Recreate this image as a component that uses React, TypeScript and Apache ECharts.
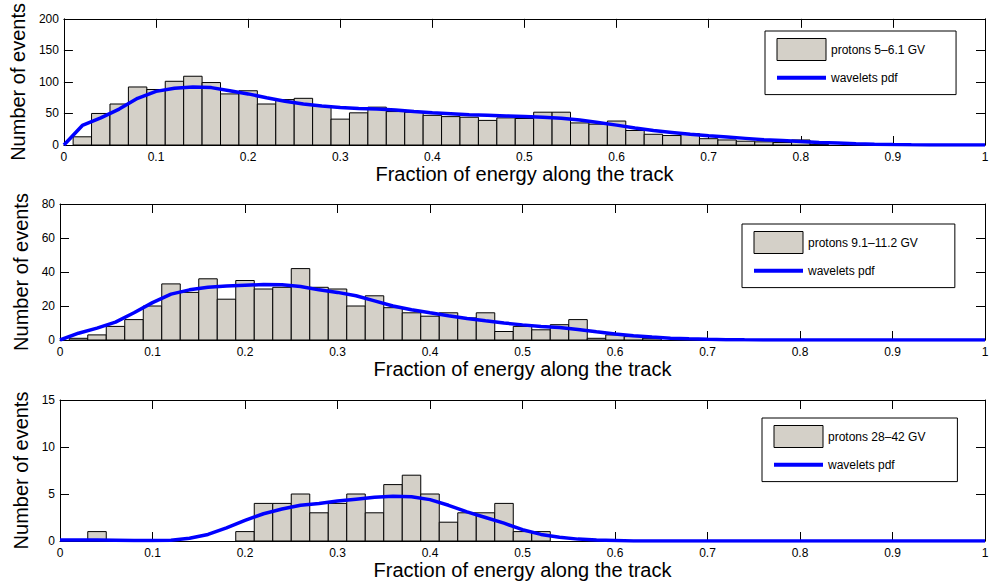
import React, { useEffect, useRef } from 'react';
import * as echarts from 'echarts';

// Bin centres of the histograms (bin width 0.02); the pdf curves are sampled at the same points.
const binCenters = [
  0, 0.02, 0.04, 0.06, 0.08, 0.1, 0.12, 0.14, 0.16, 0.18,
  0.2, 0.22, 0.24, 0.26, 0.28, 0.3, 0.32, 0.34, 0.36, 0.38,
  0.4, 0.42, 0.44, 0.46, 0.48, 0.5, 0.52, 0.54, 0.56, 0.58,
  0.6, 0.62, 0.64, 0.66, 0.68, 0.7, 0.72, 0.74, 0.76, 0.78,
  0.8, 0.82, 0.84, 0.86, 0.88, 0.9, 0.92, 0.94, 0.96, 0.98, 1,
];
const BIN_WIDTH = 0.02;

const xTicks = { min: 0, max: 1, interval: 0.1 };

// Panel 1: protons 5-6.1 GV
const counts1 = [
  0, 13, 50, 65, 92, 88, 101, 109, 99, 81,
  86, 65, 72, 74, 62, 41, 51, 60, 53, 52,
  47, 45, 44, 39, 43, 42, 52, 52, 35, 33,
  38, 23, 17, 15, 18, 10, 8, 6, 5, 4,
  8, 1, 0, 0, 0, 0, 0, 0, 0, 0, 0,
];
const pdf1 = [
  0, 31, 43, 57, 74, 85, 90, 92, 91, 86,
  81, 75, 69.5, 65, 62, 59.5, 58, 57, 55.5, 53,
  51, 49.5, 48, 47, 46, 45, 44, 42.5, 39.5, 35.5,
  31.5, 27, 23, 20, 17, 14.5, 12.5, 10.5, 8.5, 7,
  5.5, 4, 3, 2, 1.2, 0.6, 0.3, 0.1, 0, 0, 0,
];

// Panel 2: protons 9.1-11.2 GV
const counts2 = [
  0, 1, 3, 8, 12, 20, 33, 28, 36, 24,
  35, 30, 31, 42, 31, 30, 20, 26, 19, 16,
  14, 16, 13, 16, 5, 8, 6, 9, 12, 1,
  3, 2, 1, 0, 0, 0, 0, 0, 0, 0,
  0, 0, 0, 0, 0, 0, 0, 0, 0, 0, 0,
];
const pdf2 = [
  0, 4, 7, 10.5, 16, 22, 27, 29.5, 31, 31.8,
  32.2, 32.6, 32.5, 31.5, 29.5, 28, 26, 23, 20, 17.8,
  16, 14.3, 12.7, 11.3, 10, 8.9, 8, 7.3, 6.2, 4.8,
  3.5, 2.5, 1.7, 1.1, 0.7, 0.4, 0.2, 0.1, 0.05, 0,
  0, 0, 0, 0, 0, 0, 0, 0, 0, 0, 0,
];

// Panel 3: protons 28-42 GV
const counts3 = [
  0, 0, 1, 0, 0, 0, 0, 0, 0, 0,
  1, 4, 4, 5, 3, 4, 5, 3, 6, 7,
  5, 2, 3, 3, 4, 1, 1, 0, 0, 0,
  0, 0, 0, 0, 0, 0, 0, 0, 0, 0,
  0, 0, 0, 0, 0, 0, 0, 0, 0, 0, 0,
];
const pdf3 = [
  0.1, 0.1, 0.1, 0.08, 0.05, 0.05, 0.08, 0.3, 0.7, 1.4,
  2.2, 2.9, 3.4, 3.8, 4.0, 4.25, 4.45, 4.65, 4.75, 4.7,
  4.4, 3.8, 3.1, 2.5, 1.9, 1.2, 0.7, 0.4, 0.2, 0.1,
  0.05, 0, 0, 0, 0, 0, 0, 0, 0, 0,
  0, 0, 0, 0, 0, 0, 0, 0, 0, 0, 0,
];

const histNames = ['protons 5\u20136.1 GV', 'protons 9.1\u201311.2 GV', 'protons 28\u201342 GV'];
const pdfName = 'wavelets pdf';
const yMaxes = [200, 80, 15];
const yIntervals = [50, 20, 5];
const xTitle = 'Fraction of energy along the track';
const yTitle = 'Number of events';

const allCounts = [counts1, counts2, counts3];
const allPdfs = [pdf1, pdf2, pdf3];

// Layout (pixels)
const grids = [
  { left: 60, top: 7, width: 925, height: 138 },
  { left: 60, top: 204, width: 925, height: 136 },
  { left: 60, top: 400, width: 925, height: 141 },
];
const legendPos = [
  { left: 765, top: 31, pad: [7, 31, 8, 10] },
  { left: 742, top: 224, pad: [7, 37, 8, 10] },
  { left: 762, top: 418, pad: [7, 32, 8, 10] },
];

const FONT = '"Liberation Sans", Arial, Helvetica, sans-serif';
const BAR_FILL = '#d4d0c8';
const LINE_BLUE = '#0000ff';

export default function App() {
  const ref = useRef<HTMLDivElement>(null);

  useEffect(() => {
    if (!ref.current) return;
    const chart = echarts.init(ref.current, undefined, { renderer: 'svg' });

    const axisLine = { show: true, onZero: false, lineStyle: { color: '#000', width: 1 } };
    const axisTick = { show: true, inside: true, length: 9, lineStyle: { color: '#000', width: 1 } };

    const xAxis: any[] = [];
    const yAxis: any[] = [];
    const series: any[] = [];
    const legend: any[] = [];

    grids.forEach((_, i) => {
      xAxis.push({
        type: 'value', gridIndex: i, position: 'bottom', ...xTicks,
        axisLine, axisTick, splitLine: { show: false },
        axisLabel: { margin: 6, fontSize: 12, color: '#000', fontFamily: FONT },
        name: xTitle, nameLocation: 'middle', nameGap: 17,
        nameTextStyle: { fontSize: 20, color: '#000', fontFamily: FONT },
      });
      yAxis.push({
        type: 'value', gridIndex: i, position: 'left', min: 0, max: yMaxes[i], interval: yIntervals[i],
        axisLine, axisTick, splitLine: { show: false },
        axisLabel: { margin: 5, fontSize: 12, color: '#000', fontFamily: FONT },
        name: yTitle, nameLocation: 'middle', nameRotate: 90, nameGap: 25,
        nameTextStyle: { fontSize: 20, color: '#000', fontFamily: FONT },
      });
    });
    grids.forEach((_, i) => {
      xAxis.push({
        type: 'value', gridIndex: i, position: 'top', ...xTicks,
        axisLine, axisTick, splitLine: { show: false }, axisLabel: { show: false },
      });
      yAxis.push({
        type: 'value', gridIndex: i, position: 'right', min: 0, max: yMaxes[i], interval: yIntervals[i],
        axisLine, axisTick, splitLine: { show: false }, axisLabel: { show: false },
      });
    });

    grids.forEach((_, i) => {
      const histData = binCenters
        .map((c, j) => [c, allCounts[i][j]])
        .filter((d) => d[1] > 0);
      series.push({
        type: 'custom',
        name: histNames[i],
        xAxisIndex: i,
        yAxisIndex: i,
        clip: true,
        itemStyle: { color: BAR_FILL, borderColor: '#000', borderWidth: 1 },
        encode: { x: 0, y: 1 },
        data: histData,
        z: 2,
        renderItem: (params: any, api: any) => {
          const c = api.value(0);
          const v = api.value(1);
          const p0 = api.coord([c - BIN_WIDTH / 2, v]);
          const p1 = api.coord([c + BIN_WIDTH / 2, 0]);
          return {
            type: 'rect',
            shape: { x: p0[0], y: p0[1], width: p1[0] - p0[0], height: p1[1] - p0[1] },
            style: { fill: BAR_FILL, stroke: '#000', lineWidth: 1 },
          };
        },
      });
      series.push({
        type: 'line',
        name: pdfName,
        xAxisIndex: i,
        yAxisIndex: i,
        data: binCenters.map((c, j) => [c, allPdfs[i][j]]),
        showSymbol: false,
        symbol: 'none',
        clip: true,
        lineStyle: { color: LINE_BLUE, width: 3.5 },
        itemStyle: { color: LINE_BLUE },
        z: 3,
      });
      const lp = legendPos[i];
      legend.push({
        left: lp.left,
        top: lp.top,
        orient: 'vertical',
        padding: lp.pad,
        itemGap: 8,
        itemWidth: 49,
        itemHeight: 22,
        backgroundColor: '#fff',
        borderColor: '#000',
        borderWidth: 1,
        borderRadius: 0,
        selectedMode: false,
        textStyle: { fontSize: 12, color: '#000', fontFamily: FONT },
        lineStyle: { width: 4, color: LINE_BLUE },
        data: [
          { name: histNames[i], icon: 'rect', itemStyle: { color: BAR_FILL, borderColor: '#000', borderWidth: 1 } },
          { name: pdfName, itemStyle: { opacity: 0 } },
        ],
      });
    });

    chart.setOption({
      animation: false,
      backgroundColor: '#fff',
      textStyle: { fontFamily: FONT },
      grid: grids.map((g) => ({ ...g, containLabel: false })),
      xAxis,
      yAxis,
      legend,
      series,
    });

    return () => chart.dispose();
  }, []);

  return (
    <div
      ref={ref}
      style={{ position: 'absolute', left: 0, top: 0, width: 993, height: 587 }}
    />
  );
}
